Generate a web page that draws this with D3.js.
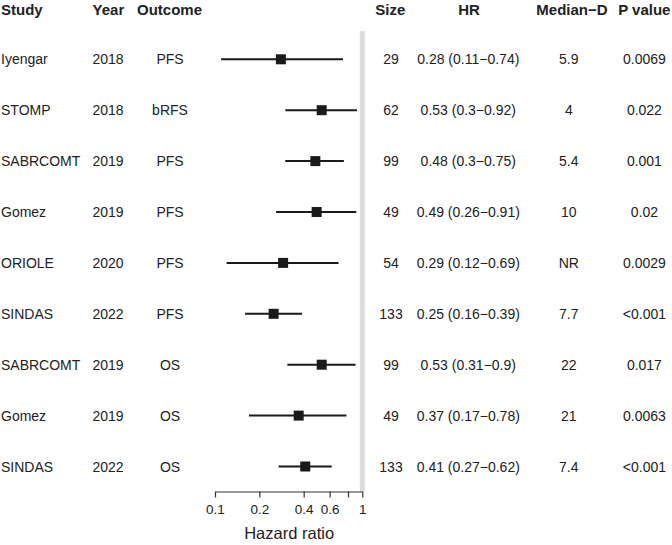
<!DOCTYPE html>
<html>
<head>
<meta charset="utf-8">
<script src="https://cdn.jsdelivr.net/npm/d3@7"></script>
<style>
  html, body { margin: 0; padding: 0; background: #fff; }
  text { font-family: "Liberation Sans", Arial, Helvetica, sans-serif; }
</style>
</head>
<body>
<svg id="chart" width="672" height="545"></svg>
<script>
const studies  = ["Iyengar", "STOMP", "SABRCOMT", "Gomez", "ORIOLE", "SINDAS", "SABRCOMT", "Gomez", "SINDAS"];
const years    = ["2018", "2018", "2019", "2019", "2020", "2022", "2019", "2019", "2022"];
const outcomes = ["PFS", "bRFS", "PFS", "PFS", "PFS", "PFS", "OS", "OS", "OS"];
const sizes    = [29, 62, 99, 49, 54, 133, 99, 49, 133];
const hr       = [0.28, 0.53, 0.48, 0.49, 0.29, 0.25, 0.53, 0.37, 0.41];
const lower    = [0.11, 0.3, 0.3, 0.26, 0.12, 0.16, 0.31, 0.17, 0.27];
const upper    = [0.74, 0.92, 0.75, 0.91, 0.69, 0.39, 0.9, 0.78, 0.62];
const medianD  = ["5.9", "4", "5.4", "10", "NR", "7.7", "22", "21", "7.4"];
const pValues  = ["0.0069", "0.022", "0.001", "0.02", "0.0029", "<0.001", "0.017", "0.0063", "<0.001"];
const headers  = ["Study", "Year", "Outcome", "Size", "HR", "Median\u2212D", "P value"];
const tickValues = [0.1, 0.2, 0.4, 0.6, 0.8, 1];
const tickLabels = ["0.1", "0.2", "0.4", "0.6", "", "1"];
const axisTitle = "Hazard ratio";

const svg = d3.select("#chart");
const idx = d3.range(studies.length);

const x = d3.scaleLog().domain([0.1, 1]).range([215, 362.3]);
const y = d3.scalePoint().domain(idx).range([59.3, 466.5]);

const ink = "#222";

// reference line at HR = 1
svg.append("line")
  .attr("x1", x(1)).attr("x2", x(1))
  .attr("y1", 31).attr("y2", 491.5)
  .attr("stroke", "#dcdcdc").attr("stroke-width", 5);

// headers
const headerPos = [
  {x: 1, anchor: "start"},
  {x: 92.6, anchor: "start"},
  {x: 169.5, anchor: "middle"},
  {x: 390.3, anchor: "middle"},
  {x: 469, anchor: "middle"},
  {x: 572, anchor: "middle"},
  {x: 644.3, anchor: "middle"}
];
svg.append("g").selectAll("text").data(headers).join("text")
  .attr("x", (d, i) => headerPos[i].x)
  .attr("y", 15)
  .attr("text-anchor", (d, i) => headerPos[i].anchor)
  .attr("font-size", 15).attr("font-weight", "bold").attr("fill", ink)
  .text(d => d);

// table columns
const cols = [
  {vals: studies, x: 1, anchor: "start"},
  {vals: years, x: 92.4, anchor: "start"},
  {vals: outcomes, x: 170, anchor: "middle"},
  {vals: sizes.map(String), x: 391, anchor: "middle"},
  {vals: idx.map(i => `${hr[i]} (${lower[i]}\u2212${upper[i]})`), x: 468.3, anchor: "middle"},
  {vals: medianD, x: 568.8, anchor: "middle"},
  {vals: pValues, x: 644.4, anchor: "middle"}
];
cols.forEach(c => {
  svg.append("g").selectAll("text").data(idx).join("text")
    .attr("x", c.x)
    .attr("y", i => y(i) + 5)
    .attr("text-anchor", c.anchor)
    .attr("font-size", 14).attr("fill", ink)
    .text(i => c.vals[i]);
});

// CI lines
svg.append("g").selectAll("line").data(idx).join("line")
  .attr("x1", i => x(lower[i])).attr("x2", i => x(upper[i]))
  .attr("y1", i => y(i)).attr("y2", i => y(i))
  .attr("stroke", "#1a1a1a").attr("stroke-width", 2);

// point estimates
const sq = 10;
svg.append("g").selectAll("rect").data(idx).join("rect")
  .attr("x", i => x(hr[i]) - sq / 2)
  .attr("y", i => y(i) - sq / 2)
  .attr("width", sq).attr("height", sq)
  .attr("fill", "#1a1a1a");

// axis
const axis = d3.axisBottom(x)
  .tickValues(tickValues)
  .tickFormat((d, i) => tickLabels[i])
  .tickSizeOuter(0)
  .tickSizeInner(6);
const gAxis = svg.append("g").attr("transform", "translate(0,491.5)").call(axis);
gAxis.select(".domain").attr("stroke", "#333").attr("stroke-width", 1.2);
gAxis.selectAll(".tick line").attr("stroke", "#333").attr("stroke-width", 1.2);
gAxis.selectAll(".tick text")
  .attr("font-family", "Liberation Sans, Arial, sans-serif")
  .attr("font-size", 13.5).attr("fill", "#222").attr("dy", "1.0em");

svg.append("text")
  .attr("x", (x(0.1) + x(1)) / 2 + 0.5)
  .attr("y", 539)
  .attr("text-anchor", "middle")
  .attr("font-size", 16.5).attr("fill", ink)
  .text(axisTitle);
</script>
</body>
</html>
